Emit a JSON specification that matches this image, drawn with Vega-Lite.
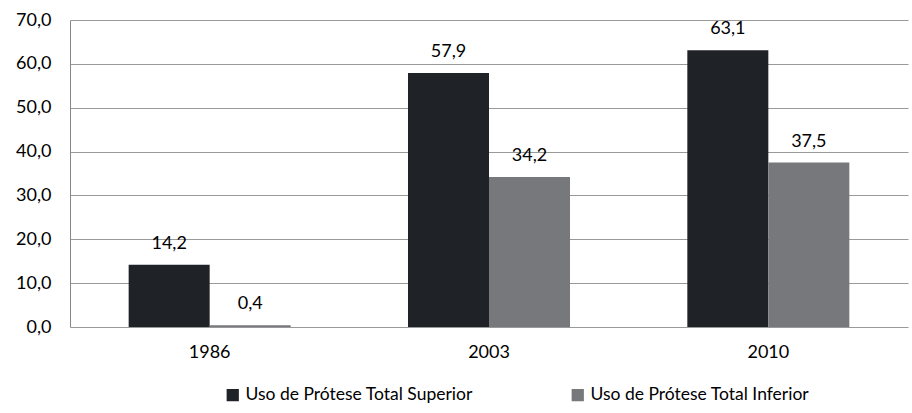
{
  "$schema": "https://vega.github.io/schema/vega-lite/v6.json",
  "width": 838,
  "height": 307,
  "autosize": {"type": "none"},
  "padding": {"left": 70, "top": 20, "right": 4, "bottom": 86},
  "background": "white",
  "data": {"values": [
    {"ano": "1986", "serie": "Uso de Prótese Total Superior", "valor": 14.2},
    {"ano": "1986", "serie": "Uso de Prótese Total Inferior", "valor": 0.4},
    {"ano": "2003", "serie": "Uso de Prótese Total Superior", "valor": 57.9},
    {"ano": "2003", "serie": "Uso de Prótese Total Inferior", "valor": 34.2},
    {"ano": "2010", "serie": "Uso de Prótese Total Superior", "valor": 63.1},
    {"ano": "2010", "serie": "Uso de Prótese Total Inferior", "valor": 37.5}
  ]},
  "encoding": {
    "x": {"field": "ano", "type": "nominal", "title": null,
      "scale": {"paddingInner": 0.42, "paddingOuter": 0.21},
      "axis": {"labelAngle": 0, "ticks": false, "domain": false, "labelPadding": 16, "labelFontSize": 18, "labelColor": "#000"}},
    "xOffset": {"field": "serie", "type": "nominal", "sort": ["Uso de Prótese Total Superior", "Uso de Prótese Total Inferior"], "scale": {"paddingInner": 0, "paddingOuter": 0}},
    "y": {"field": "valor", "type": "quantitative", "title": null,
      "scale": {"domain": [0, 70], "nice": false},
      "axis": {"values": [0, 10, 20, 30, 40, 50, 60, 70], "format": ".1f", "ticks": false, "domain": true, "domainColor": "#888", "gridColor": "#999", "labelFontSize": 18, "labelColor": "#000", "labelPadding": 19}}
  },
  "layer": [
    {"mark": {"type": "bar"},
     "encoding": {
       "color": {"field": "serie", "type": "nominal", "sort": ["Uso de Prótese Total Superior", "Uso de Prótese Total Inferior"],
         "scale": {"range": ["#1f2226", "#76787b"]},
         "legend": {"title": null, "orient": "none", "legendX": 154, "legendY": 366, "direction": "horizontal", "symbolType": "square", "symbolSize": 150, "labelFontSize": 17.5, "labelColor": "#000", "labelLimit": 400, "columnPadding": 96, "symbolStrokeWidth": 0, "labelOffset": 4}}}},
    {"mark": {"type": "text", "dy": -21, "fontSize": 18, "color": "#000"},
     "encoding": {"text": {"field": "valor", "type": "quantitative", "format": ".1f"}}}
  ],
  "config": {
    "locale": {"number": {"decimal": ",", "thousands": ".", "grouping": [3], "currency": ["", ""]}},
    "font": "Lato",
    "view": {"stroke": null}
  }
}
